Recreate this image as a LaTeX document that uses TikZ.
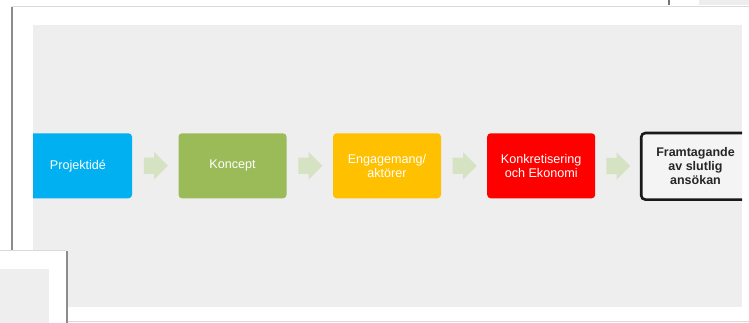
\documentclass[tikz,border=0pt]{standalone}
\usepackage{fontspec}
\setmainfont{Liberation Sans}
\usetikzlibrary{shapes.arrows}
\definecolor{panelgray}{HTML}{EEEEEE}
\definecolor{cblue}{HTML}{00B0F0}
\definecolor{cgreen}{HTML}{9BBB59}
\definecolor{cyellow}{HTML}{FFC000}
\definecolor{cred}{HTML}{FF0000}
\definecolor{carrow}{HTML}{D5E3C3}
\definecolor{lastfill}{HTML}{F4F4F4}
\tikzset{
  stepbox/.style={rectangle, rounded corners=3.5pt, minimum width=108pt, minimum height=65pt,
    inner sep=2pt, text=white, align=center, font=\fontsize{12.6}{13.4}\selectfont},
  finalbox/.style={rectangle, rounded corners=4pt, draw=black!90, line width=2.6pt, fill=lastfill,
    minimum width=108.5pt, minimum height=66.5pt, inner sep=2pt, align=center,
    text=black!85, font=\fontsize{12.5}{14}\selectfont\bfseries},
  blockarrow/.style={single arrow, fill=carrow, draw=none, inner xsep=0pt, inner ysep=8pt,
    minimum height=24pt, single arrow head extend=5.5pt, xshift=-3.5pt},
  shadowline/.style={draw=black!45, line width=1.8pt},
  faintline/.style={draw=black!15, line width=0.8pt}
}
\begin{document}
\begin{tikzpicture}[x=1pt, y=-1pt]
\useasboundingbox (0,0) rectangle (749,323);
\fill[white] (0,0) rectangle (749,323);
% frames behind at the top
\fill[black!7] (699,0) rectangle (749,5.5);
\draw[black!55, line width=1.3pt] (669,0) -- (669,5.5);
% outer frame
\fill[white] (12,6) rectangle (749,321);
\draw[faintline] (12,6.3) -- (749,6.3);
\draw[shadowline] (12,7) -- (12,250);
\draw[faintline] (67,321.8) -- (749,321.8);
% panel
\fill[panelgray] (33,25) rectangle (742,307);
\begin{scope}
\clip (33,25) rectangle (742,307);
\node[stepbox, fill=cblue] (b1) at (78,165.8) {Projektidé};
\node[stepbox, fill=cgreen] (b2) at (232.5,165.8) {Koncept};
\node[stepbox, fill=cyellow] (b3) at (387,165.8) {Engagemang/\\aktörer};
\node[stepbox, fill=cred] (b4) at (541.2,165.8) {Konkretisering\\och Ekonomi};
\node[finalbox] (b5) at (695.5,166.3) {Framtagande\\av slutlig\\ansökan};
\path (b1.east) -- node[blockarrow] (a1) {} (b2.west);
\path (b2.east) -- node[blockarrow] (a2) {} (b3.west);
\path (b3.east) -- node[blockarrow] (a3) {} (b4.west);
\path (b4.east) -- node[blockarrow] (a4) {} (b5.west);
\end{scope}
% small frame at the bottom left
\fill[white] (0,250) rectangle (66,323);
\draw[faintline] (0,250.3) -- (66,250.3);
\fill[panelgray] (0,269) rectangle (49,323);
\draw[shadowline] (67,251) -- (67,323);
\end{tikzpicture}
\end{document}
